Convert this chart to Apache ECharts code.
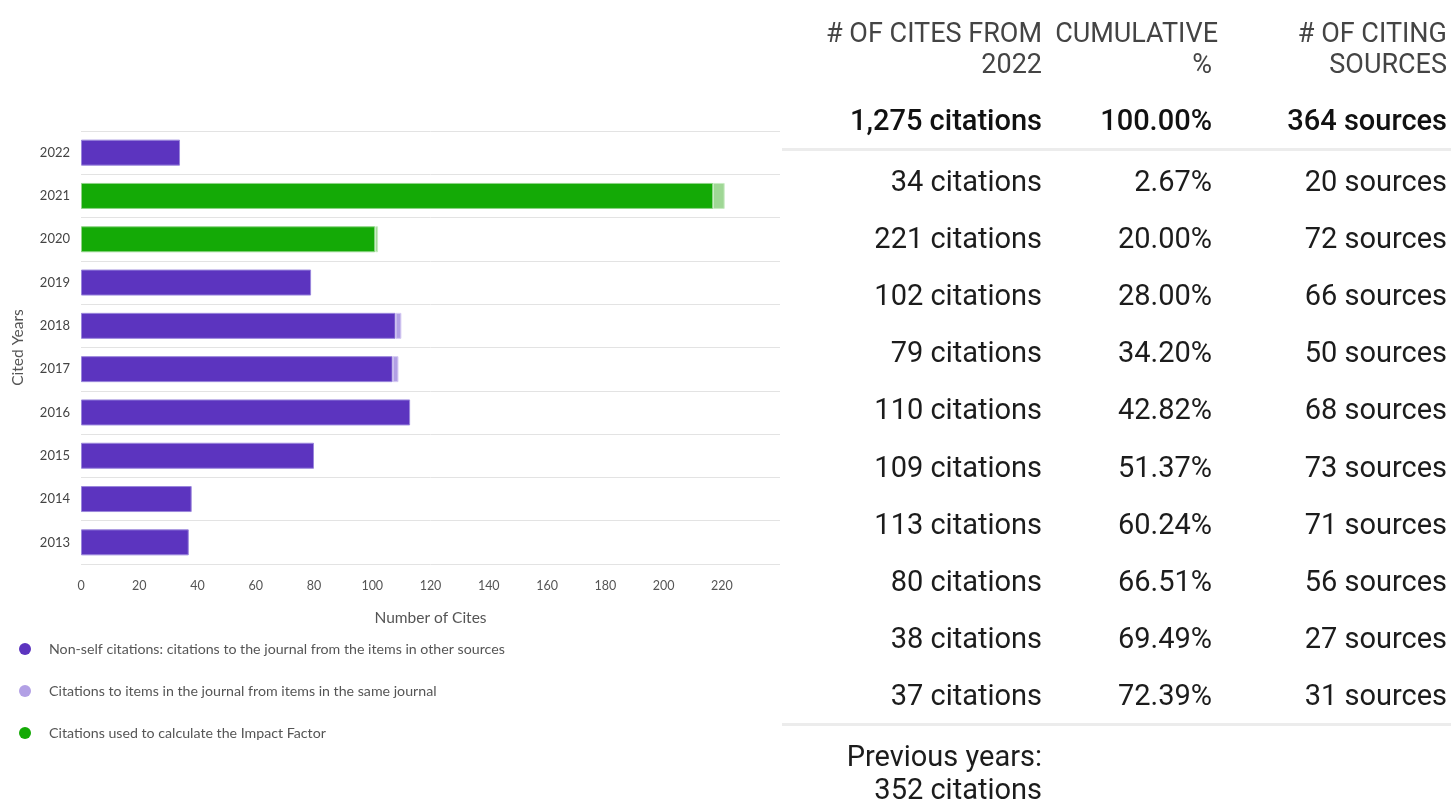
<!DOCTYPE html>
<html>
<head>
<meta charset="utf-8">
<script src="https://cdn.jsdelivr.net/npm/echarts@6/dist/echarts.min.js"></script>
<style>
  html, body { margin: 0; padding: 0; background: #fff; }
  #chart { position: absolute; left: 0; top: 0; width: 1451px; height: 802px; }
  .t { position: absolute; font-family: Roboto, "Noto Sans", sans-serif; white-space: nowrap; text-align: right; }
  .hd { font-size: 27px; color: #444; }
  .tot { font-size: 29px; font-weight: 500; color: #111; }
  .row { font-size: 29px; color: #1c1c1c; }
  .sep { position: absolute; left: 782px; width: 669px; height: 3px; background: #ececec; }
</style>
</head>
<body>
<div id="chart"></div>
<div id="table"></div>
<script>
// ---- Chart data ----
const citedYears = ['2022', '2021', '2020', '2019', '2018', '2017', '2016', '2015', '2014', '2013'];
const nonSelfCites = [34, 0, 0, 79, 108, 107, 113, 80, 38, 37];
const selfCites = [0, 0, 0, 0, 2, 2, 0, 0, 0, 0];
const impactNonSelfCites = [0, 217, 101, 0, 0, 0, 0, 0, 0, 0];
const impactSelfCites = [0, 4, 1, 0, 0, 0, 0, 0, 0, 0];
const xTicks = [0, 20, 40, 60, 80, 100, 120, 140, 160, 180, 200, 220];

// ---- Table data ----
const headerCites = ['# OF CITES FROM', '2022'];
const headerCumulative = ['CUMULATIVE', '%'];
const headerSources = ['# OF CITING', 'SOURCES'];
const totalCitations = '1,275 citations';
const totalCumulative = '100.00%';
const totalSources = '364 sources';
const rowCitations = [34, 221, 102, 79, 110, 109, 113, 80, 38, 37];
const rowCumulative = ['2.67%', '20.00%', '28.00%', '34.20%', '42.82%', '51.37%', '60.24%', '66.51%', '69.49%', '72.39%'];
const rowSources = [20, 72, 66, 50, 68, 73, 71, 56, 27, 31];
const previousYears = ['Previous years:', '352 citations'];

const legendNames = [
  'Non-self citations: citations to the journal from the items in other sources',
  'Citations to items in the journal from items in the same journal',
  'Citations used to calculate the Impact Factor'
];

const chart = echarts.init(document.getElementById('chart'));
const labelFont = 'Lato, "Noto Sans", sans-serif';

function barSeries(name, data, color, border) {
  return {
    name: name,
    type: 'bar',
    stack: 'cites',
    barWidth: 26,
    data: data.map(v => v === 0 ? null : v),
    itemStyle: { color: color, borderColor: border, borderWidth: 1 },
    emphasis: { disabled: true }
  };
}

chart.setOption({
  animation: false,
  grid: { left: 81, right: 671, top: 131, bottom: 238, containLabel: false },
  legend: {
    data: legendNames,
    orient: 'vertical',
    left: 19,
    top: 642,
    padding: 0,
    itemWidth: 12,
    itemHeight: 12,
    itemGap: 28,
    icon: 'circle',
    selectedMode: false,
    itemStyle: { borderWidth: 0 },
    textStyle: { fontFamily: labelFont, fontSize: 14.2, lineHeight: 12, color: '#555', padding: [0, 0, 0, 13] }
  },
  xAxis: {
    type: 'value',
    min: 0,
    max: 240,
    interval: 20,
    name: 'Number of Cites',
    nameLocation: 'middle',
    nameGap: 46,
    nameTextStyle: { fontFamily: labelFont, fontSize: 15.5, color: '#555' },
    axisLine: { show: false },
    axisTick: { show: false },
    splitLine: { show: false },
    axisLabel: {
      margin: 15,
      fontFamily: labelFont,
      fontSize: 12.5,
      color: '#555',
      showMaxLabel: false,
      formatter: v => xTicks.indexOf(v) >= 0 ? String(v) : ''
    }
  },
  yAxis: {
    type: 'category',
    data: citedYears,
    inverse: true,
    name: 'Cited Years',
    nameLocation: 'middle',
    nameGap: 55,
    nameTextStyle: { fontFamily: labelFont, fontSize: 15.5, color: '#555' },
    axisLine: { show: false },
    axisTick: { show: false },
    axisLabel: { margin: 11, fontFamily: labelFont, fontSize: 13, color: '#444' },
    splitLine: { show: true, lineStyle: { color: '#e3e3e3', width: 1 } }
  },
  series: [
    barSeries(legendNames[0], nonSelfCites, '#5c34bf', '#9a86dc'),
    barSeries(legendNames[1], selfCites, '#b2a0e5', '#d6cbf2'),
    barSeries(legendNames[2], impactNonSelfCites, '#14aa06', '#8fd486'),
    barSeries('Impact Factor self citations', impactSelfCites, '#9fd795', '#c9ebc3')
  ]
});

// ---- Table (HTML text) ----
const table = document.getElementById('table');
function addText(cls, text, rightEdge, centerY, lineH) {
  const d = document.createElement('div');
  d.className = 't ' + cls;
  d.textContent = text;
  d.style.right = (1451 - rightEdge) + 'px';
  d.style.lineHeight = lineH + 'px';
  d.style.top = (centerY - lineH / 2) + 'px';
  table.appendChild(d);
  return d;
}
const colRight = [1042, 1212, 1447];
// header
addText('hd', headerCites[0], colRight[0], 33, 31);
addText('hd', headerCites[1], colRight[0], 64, 31);
addText('hd', headerCumulative[0], colRight[1] + 6, 33, 31);
addText('hd', headerCumulative[1], colRight[1], 64, 31);
addText('hd', headerSources[0], colRight[2], 33, 31);
addText('hd', headerSources[1], colRight[2], 64, 31);
// totals
addText('tot', totalCitations, colRight[0], 120, 34);
addText('tot', totalCumulative, colRight[1], 120, 34);
addText('tot', totalSources, colRight[2], 120, 34);
// separators
const s1 = document.createElement('div'); s1.className = 'sep'; s1.style.top = '148px'; table.appendChild(s1);
const s2 = document.createElement('div'); s2.className = 'sep'; s2.style.top = '723px'; table.appendChild(s2);
// rows
for (let i = 0; i < rowCitations.length; i++) {
  const y = 181 + i * 57.1;
  addText('row', rowCitations[i] + ' citations', colRight[0], y, 34);
  addText('row', rowCumulative[i], colRight[1], y, 34);
  addText('row', rowSources[i] + ' sources', colRight[2], y, 34);
}
addText('row', previousYears[0], colRight[0], 756, 33);
addText('row', previousYears[1], colRight[0], 789, 33);
</script>
</body>
</html>
